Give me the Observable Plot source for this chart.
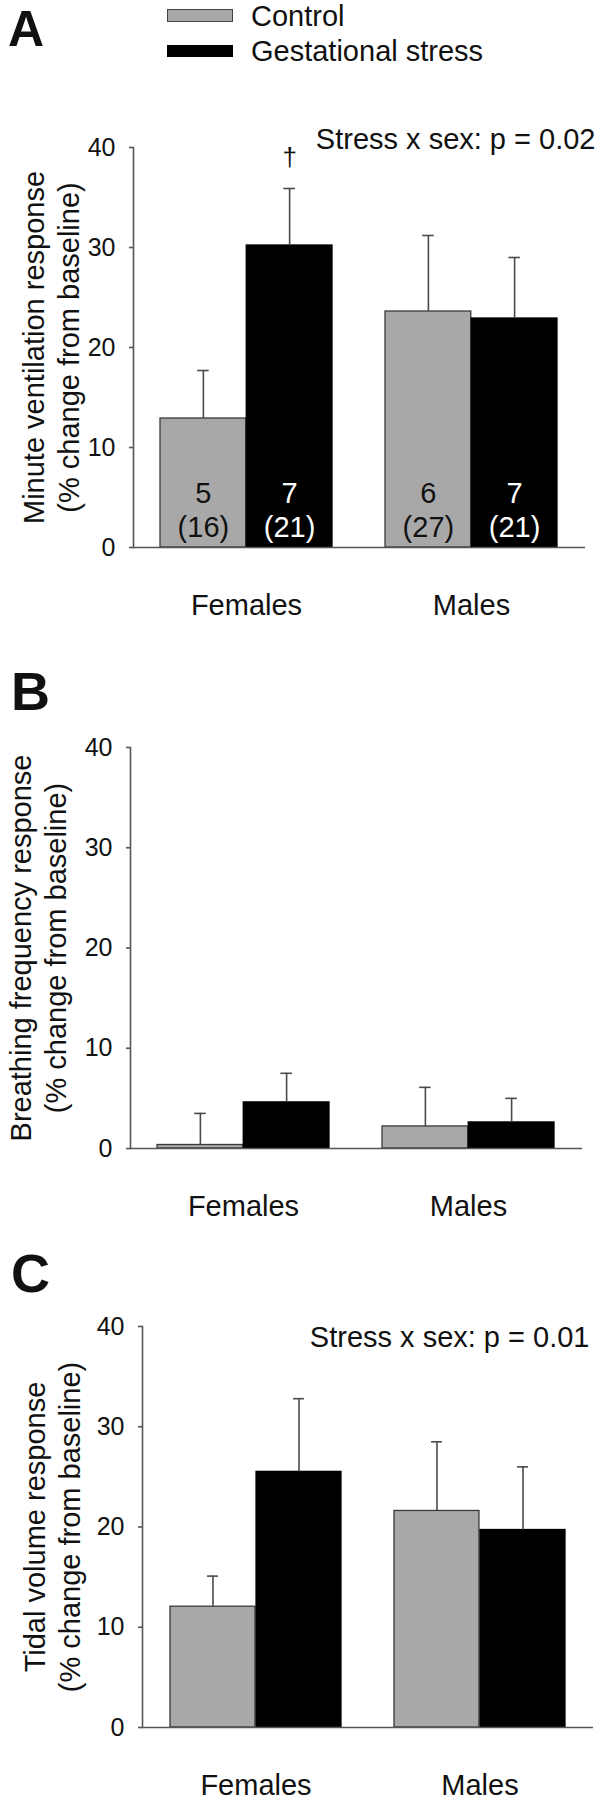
<!DOCTYPE html>
<html><head><meta charset="utf-8">
<script src="https://cdn.jsdelivr.net/npm/d3@7"></script>
<script src="https://cdn.jsdelivr.net/npm/@observablehq/plot@0.6"></script>
<style>
body{margin:0;background:#fff;font-family:"Liberation Sans",Arial,sans-serif;}
#root{position:relative;width:600px;height:1800px;overflow:hidden;background:#fff;}
.abs{position:absolute;line-height:1;white-space:nowrap;color:#111;}
.letter{font-weight:bold;font-size:54px;}
.leg{font-size:29px;}
.sw{position:absolute;box-sizing:border-box;}
svg{position:absolute;left:0;display:block;}
</style></head><body><div id="root"></div>
<script>
const sexes = ["Females", "Males"];
const groups = ["Control", "Gestational stress"];
const groupColors = ["#a8a8a8", "#000000"];
const yTicks = [0, 10, 20, 30, 40];
// order: Females-Control, Females-Stress, Males-Control, Males-Stress
const ventMean = [12.9, 30.2, 23.6, 22.9];
const ventSem = [4.8, 5.7, 7.6, 6.1];
const freqMean = [0.35, 4.6, 2.2, 2.6];
const freqSem = [3.15, 2.9, 3.9, 2.4];
const tidalMean = [12.05, 25.5, 21.6, 19.7];
const tidalSem = [3.05, 7.3, 6.9, 6.3];
const nMice = ["5", "7", "6", "7"];
const nBreaths = ["(16)", "(21)", "(27)", "(21)"];
const ventSig = ["", "†", "", ""];
const panelLetters = ["A", "B", "C"];
const yLabels = [
  "Minute ventilation response\n(% change from baseline)",
  "Breathing frequency response\n(% change from baseline)",
  "Tidal volume response\n(% change from baseline)"
];
const interactions = ["Stress x sex: p = 0.02", null, "Stress x sex: p = 0.01"];

function rowsOf(mean, sem, sig) {
  return mean.map((m, i) => ({
    sex: sexes[Math.floor(i / 2)], group: groups[i % 2],
    mean: m, upper: m + sem[i], n: nMice[i], k: nBreaths[i], sig: sig ? sig[i] : ""
  }));
}

function panel({rows, lay, yLabel, interaction, showN, labelDx, interDx, interDy}) {
  const {height, mt, mb, ml, mr} = lay;
  const pi = 0.235, po = 0.12;
  const L = 600 - ml - mr;
  const step = L / (2 - pi + 2 * po);
  const bw = step * (1 - pi);
  const q = bw / 4, cap = 6;
  const marks = [];
  groups.forEach((g, j) => {
    const data = rows.filter(d => d.group === g);
    const side = j === 0 ? -1 : 1;
    marks.push(Plot.barY(data, {
      x: "sex", y: "mean", fill: groupColors[j],
      stroke: j === 0 ? "#3a3a3a" : "#000", strokeWidth: 1.3,
      insetLeft: j === 0 ? 0 : bw / 2, insetRight: j === 0 ? bw / 2 : 0
    }));
    marks.push(Plot.ruleX(data, {x: "sex", y1: "mean", y2: "upper", dx: side * q, stroke: "#4a4a4a", strokeWidth: 1.6}));
    marks.push(Plot.tickY(data, {
      x: "sex", y: "upper",
      insetLeft: (j === 0 ? q : 3 * q) - cap, insetRight: (j === 0 ? 3 * q : q) - cap,
      stroke: "#4a4a4a", strokeWidth: 1.6
    }));
    if (showN) {
      marks.push(Plot.text(data, {
        x: "sex", frameAnchor: "bottom", text: d => d.n + "\n" + d.k, dx: side * q, dy: -38,
        lineAnchor: "middle", lineHeight: 1.17, fontSize: 29, fill: j === 0 ? "#111" : "#fff"
      }));
    }
    marks.push(Plot.text(data.filter(d => d.sig), {
      x: "sex", y: "upper", text: "sig", dx: side * q, dy: -31, fontSize: 26, lineAnchor: "middle", fill: "#111"
    }));
  });
  marks.push(Plot.ruleY([0], {stroke: "#555", strokeWidth: 1.6}));
  marks.push(Plot.frame({anchor: "left", stroke: "#555", strokeWidth: 1.6}));
  marks.push(Plot.axisY({ticks: yTicks, tickSize: 4, tickPadding: 14, fontSize: 25, label: null, stroke: "#555", fill: "#111", strokeWidth: 1.6}));
  marks.push(Plot.axisX({tickSize: 0, tickPadding: 47, fontSize: 29, label: null, fill: "#111"}));
  marks.push(Plot.text([yLabel], {
    text: d => d, frameAnchor: "left", rotate: -90, textAnchor: "middle", lineAnchor: "top",
    lineHeight: 1.2, dx: labelDx, fontSize: 29, fill: "#111"
  }));
  if (interaction) {
    marks.push(Plot.text([interaction], {
      text: d => d, frameAnchor: "top-right", textAnchor: "end", lineAnchor: "middle",
      dx: interDx, dy: interDy, fontSize: 29, fill: "#111"
    }));
  }
  const svg = Plot.plot({
    width: 600, height, marginTop: mt, marginBottom: mb, marginLeft: ml, marginRight: mr,
    style: {fontFamily: "'Liberation Sans', Arial, sans-serif", background: "transparent", overflow: "visible"},
    x: {domain: sexes, paddingInner: pi, paddingOuter: po, axis: null},
    y: {domain: [0, 40], axis: null},
    marks
  });
  svg.style.top = lay.top + "px";
  return svg;
}

const root = document.getElementById("root");
root.appendChild(panel({
  rows: rowsOf(ventMean, ventSem, ventSig), lay: {top: 0, height: 625, mt: 147, mb: 78, ml: 133, mr: 15},
  yLabel: yLabels[0], interaction: interactions[0], showN: true, labelDx: -114, interDx: 10, interDy: -8
}));
root.appendChild(panel({
  rows: rowsOf(freqMean, freqSem), lay: {top: 625, height: 590, mt: 122, mb: 67, ml: 130, mr: 18},
  yLabel: yLabels[1], interaction: interactions[1], showN: false, labelDx: -124
}));
root.appendChild(panel({
  rows: rowsOf(tidalMean, tidalSem), lay: {top: 1215, height: 585, mt: 111, mb: 73, ml: 142, mr: 7},
  yLabel: yLabels[2], interaction: interactions[2], showN: false, labelDx: -122, interDx: -4, interDy: 11
}));

// panel letters
const letterPos = [[8, 0, 50, "normal"], [11, 664, 54, "1"], [11, 1246, 54, "1"]];
panelLetters.forEach((t, i) => {
  const el = document.createElement("div");
  el.className = "abs letter";
  el.textContent = t;
  el.style.left = letterPos[i][0] + "px";
  el.style.top = letterPos[i][1] + "px";
  el.style.fontSize = letterPos[i][2] + "px";
  el.style.lineHeight = letterPos[i][3];
  root.appendChild(el);
});

// legend
const legTops = [[9, 13, 1.5], [45, 12, 36.5]];
groups.forEach((g, j) => {
  const sw = document.createElement("div");
  sw.className = "sw";
  sw.style.left = "167px";
  sw.style.top = legTops[j][0] + "px";
  sw.style.width = "66px";
  sw.style.height = legTops[j][1] + "px";
  sw.style.background = groupColors[j];
  sw.style.border = j === 0 ? "1.5px solid #444" : "1px solid #000";
  root.appendChild(sw);
  const tx = document.createElement("div");
  tx.className = "abs leg";
  tx.textContent = g;
  tx.style.left = "251px";
  tx.style.top = legTops[j][2] + "px";
  root.appendChild(tx);
});
</script></body></html>
